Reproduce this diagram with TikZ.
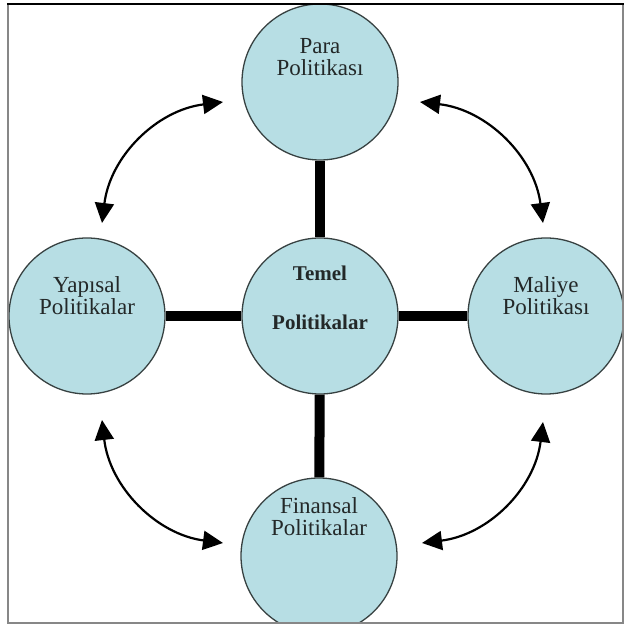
\documentclass[tikz,border=0pt]{standalone}
\usepackage{fontspec}
\setmainfont{Liberation Serif}
\usetikzlibrary{arrows.meta}
\pgfdeclarelayer{background}
\pgfsetlayers{background,main}
\definecolor{cfill}{RGB}{183,222,228}
\definecolor{cedge}{RGB}{55,65,65}
\definecolor{frameg}{RGB}{135,135,135}
\definecolor{txtc}{RGB}{35,40,40}
\begin{document}
\begin{tikzpicture}[x=1pt,y=1pt,
  circ/.style={circle, draw=cedge, line width=1.3pt, fill=cfill, minimum size=156pt, inner sep=0pt},
  lbl/.style={align=center, font=\fontsize{23}{22}\selectfont, text=txtc},
  slbl/.style={align=center, font=\fontsize{23}{20}\selectfont, text=txtc},
  clbl/.style={align=center, font=\fontsize{21}{49}\selectfont\bfseries, text=txtc},
  bar/.style={line width=10pt, black},
  dbl/.style={line width=2.2pt, {Triangle[length=20pt,width=19pt]}-{Triangle[length=20pt,width=19pt]}}]
\useasboundingbox (0,0) rectangle (625,629);
\begin{scope}
\clip (8,6) rectangle (623,625);
\node[circ] (top) at (320,547) {};
\node[circ] (mid) at (320,313) {};
\node[circ] (lft) at (87,313) {};
\node[circ] (rgt) at (546,313) {};
\node[circ] (bot) at (319,73) {};
\end{scope}
\begin{pgfonlayer}{background}
\draw[bar] (top) -- (mid);
\draw[bar] (mid) -- (bot);
\draw[bar] (lft) -- (mid);
\draw[bar] (mid) -- (rgt);
\end{pgfonlayer}
\node[lbl, yshift=25pt] (ttop) at (top) {Para\\Politikası};
\node[clbl, yshift=18pt] (tmid) at (mid) {Temel\\Politikalar};
\node[slbl, yshift=20pt] (tlft) at (lft) {Yapısal\\Politikalar};
\node[slbl, yshift=20pt] (trgt) at (rgt) {Maliye\\Politikası};
\node[lbl, yshift=39pt] (tbot) at (bot) {Finansal\\Politikalar};
\coordinate (tl1) at (102,406);
\coordinate (tl2) at (223,527);
\coordinate (tr1) at (420,527);
\coordinate (tr2) at (543,406);
\coordinate (bl1) at (102,209);
\coordinate (bl2) at (223,86);
\coordinate (br1) at (543,207);
\coordinate (br2) at (422,86);
\draw[dbl] (tl1) to[bend left=38] (tl2);
\draw[dbl] (tr1) to[bend left=38] (tr2);
\draw[dbl] (bl1) to[bend right=38] (bl2);
\draw[dbl] (br1) to[bend left=38] (br2);
\draw[frameg, line width=2.5pt] (8,625) -- (8,6) -- (623,6) -- (623,625);
\draw[black, line width=2.5pt] (6.75,625) -- (624.25,625);
\end{tikzpicture}
\end{document}
